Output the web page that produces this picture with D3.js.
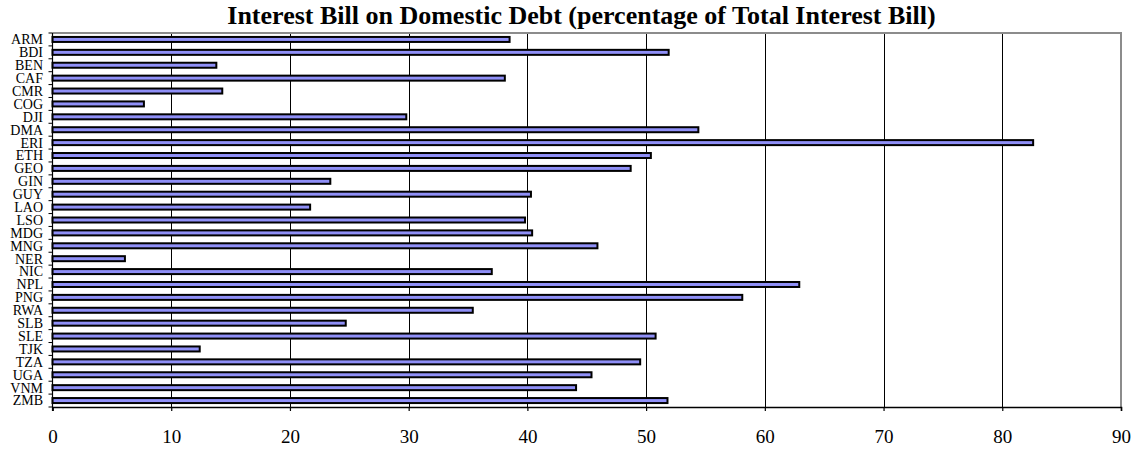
<!DOCTYPE html>
<html>
<head>
<meta charset="utf-8">
<script src="https://cdn.jsdelivr.net/npm/d3@7"></script>
<style>
  html, body { margin: 0; padding: 0; background: #fff; }
  svg { display: block; }
</style>
</head>
<body>
<svg id="chart" width="1138" height="451"></svg>
<script>
const categories = ["ARM","BDI","BEN","CAF","CMR","COG","DJI","DMA","ERI","ETH","GEO","GIN","GUY","LAO","LSO","MDG","MNG","NER","NIC","NPL","PNG","RWA","SLB","SLE","TJK","TZA","UGA","VNM","ZMB"];
const values = [38.5,51.9,13.8,38.1,14.3,7.7,29.8,54.4,82.6,50.4,48.7,23.4,40.3,21.7,39.8,40.4,45.9,6.1,37.0,62.9,58.1,35.4,24.7,50.8,12.4,49.5,45.4,44.1,51.8];
const xTicks = [0,10,20,30,40,50,60,70,80,90];
const title = "Interest Bill on Domestic Debt (percentage of Total Interest Bill)";

(function () {
const svg = d3.select("#chart");
const pLeft = 52.5, pRight = 1121, pTop = 33, pBottom = 407;

const x = d3.scaleLinear().domain([0, 90]).range([pLeft, pRight]);
const y = d3.scaleBand().domain(categories).range([pTop, pBottom]).paddingInner(0).paddingOuter(0);

// gridlines
svg.append("g").selectAll("line").data(xTicks.filter(t => t > 0 && t < 90)).join("line")
  .attr("x1", d => Math.round(x(d)) + 0.5).attr("x2", d => Math.round(x(d)) + 0.5)
  .attr("y1", pTop).attr("y2", pBottom)
  .attr("stroke", "#000").attr("stroke-width", 1);

// plot border (top, right) grey
svg.append("path")
  .attr("d", `M${pLeft},${pTop}H${pRight}V${pBottom}`)
  .attr("fill", "none").attr("stroke", "#8c8c8c").attr("stroke-width", 2);

// bars
const bh = 5;
svg.append("g").selectAll("rect").data(categories).join("rect")
  .attr("x", x(0))
  .attr("y", (d) => y(d) + y.bandwidth() / 2 - bh / 2)
  .attr("width", (d, i) => x(values[i]) - x(0))
  .attr("height", bh)
  .attr("fill", "#8f8ff7")
  .attr("stroke", "#000")
  .attr("stroke-width", 2);

// left axis
svg.append("line").attr("x1", pLeft).attr("x2", pLeft).attr("y1", pTop).attr("y2", pBottom + 4)
  .attr("stroke", "#000").attr("stroke-width", 1.2);
const bounds = categories.map(c => y(c)).concat([pBottom]);
svg.append("g").selectAll("line").data(bounds).join("line")
  .attr("x1", pLeft - 4).attr("x2", pLeft).attr("y1", d => d).attr("y2", d => d)
  .attr("stroke", "#000").attr("stroke-width", 1);
svg.append("g").selectAll("text").data(categories).join("text")
  .attr("x", 43)
  .attr("y", d => y(d) + y.bandwidth() / 2)
  .attr("dy", "0.35em")
  .attr("text-anchor", "end")
  .attr("font-family", "Liberation Serif, Times New Roman, serif")
  .attr("font-size", 14)
  .attr("fill", "#000")
  .text(d => d);

// bottom axis
const xAxis = d3.axisBottom(x).tickValues(xTicks).tickSize(4).tickPadding(19).tickFormat(d3.format("d"));
const gx = svg.append("g").attr("transform", `translate(0,${pBottom})`).call(xAxis);
gx.select(".domain").attr("stroke", "#000").attr("stroke-width", 1.5);
gx.selectAll(".tick line").attr("stroke", "#000").attr("stroke-width", 1.2);
gx.selectAll(".tick text")
  .attr("font-family", "Liberation Serif, Times New Roman, serif")
  .attr("font-size", 19).attr("fill", "#000");

// title
svg.append("text")
  .attr("x", 581.5)
  .attr("y", 24)
  .attr("text-anchor", "middle")
  .attr("font-family", "Liberation Serif, Times New Roman, serif")
  .attr("font-weight", "bold")
  .attr("font-size", 26)
  .attr("fill", "#000")
  .text(title);
})();
</script>
</body>
</html>
